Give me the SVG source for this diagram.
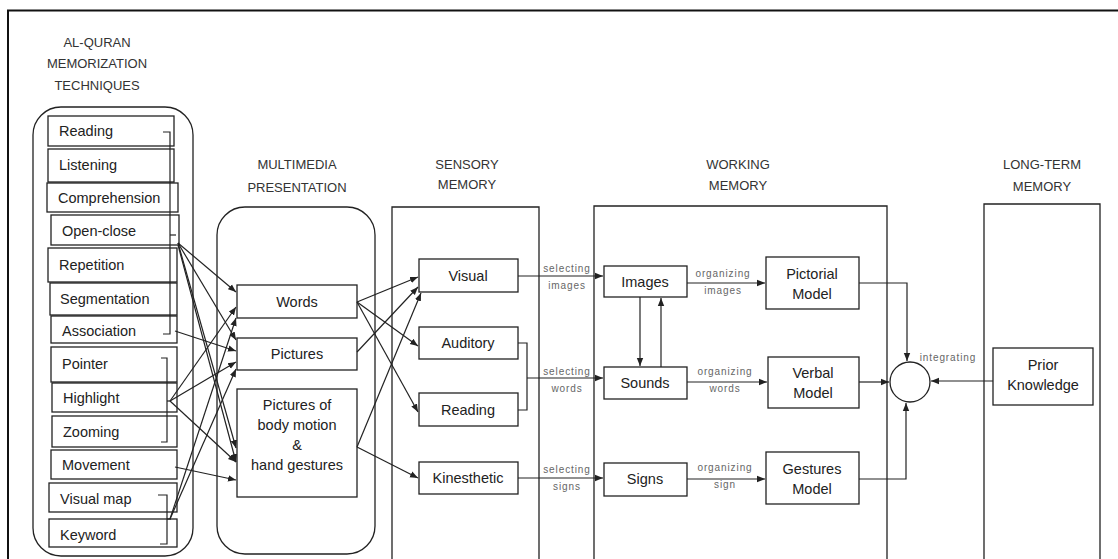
<svg xmlns="http://www.w3.org/2000/svg" width="1118" height="559" viewBox="0 0 1118 559">
<style>
.box{fill:#fff;stroke:#222;stroke-width:1.3}
.cont{fill:none;stroke:#222;stroke-width:1.3}
.t{font-family:"Liberation Sans",Arial,sans-serif;font-size:14.5px;fill:#222}
.tc{font-family:"Liberation Sans",Arial,sans-serif;font-size:14.5px;fill:#222;text-anchor:middle}
.h{font-family:"Liberation Sans",Arial,sans-serif;font-size:13px;fill:#333;text-anchor:middle}
.s{font-family:"Liberation Sans",Arial,sans-serif;font-size:10px;letter-spacing:0.9px;fill:#666;text-anchor:middle}
.c{fill:none;stroke:#222;stroke-width:1.2}
.a{fill:none;stroke:#222;stroke-width:1.2;marker-end:url(#ah)}
.br{fill:none;stroke:#222;stroke-width:1.2}
</style>
<defs>
<marker id="ah" viewBox="0 0 10 10" refX="10" refY="5" markerWidth="8" markerHeight="8" markerUnits="userSpaceOnUse" orient="auto">
<path d="M0,1 L10,5 L0,9 z" fill="#222"/>
</marker>
</defs>
<rect width="1118" height="559" fill="#fff"/>
<g id="frame">
<path d="M8,559 L8,10.5 L1118,10.5" fill="none" stroke="#111" stroke-width="2"/>
</g>

<g id="headers">
<text class="h" x="97" y="47">AL-QURAN</text>
<text class="h" x="97" y="68">MEMORIZATION</text>
<text class="h" x="97" y="90">TECHNIQUES</text>
<text class="h" x="297" y="169">MULTIMEDIA</text>
<text class="h" x="297" y="192">PRESENTATION</text>
<text class="h" x="467" y="169">SENSORY</text>
<text class="h" x="467" y="189">MEMORY</text>
<text class="h" x="738" y="169">WORKING</text>
<text class="h" x="738" y="190">MEMORY</text>
<text class="h" x="1042" y="169">LONG-TERM</text>
<text class="h" x="1042" y="191">MEMORY</text>
</g>

<g id="containers">
<rect class="cont" x="33" y="107" width="160" height="449" rx="28"/>
<rect class="cont" x="217" y="207" width="158" height="347" rx="28"/>
<path class="cont" d="M392,560 L392,207 L539,207 L539,560"/>
<path class="cont" d="M594,560 L594,206 L887,206 L887,560"/>
<path class="cont" d="M984,560 L984,204 L1100,204 L1100,560"/>
</g>

<g id="techniques">
<g id="t-reading"><rect class="box" x="48" y="116" width="126" height="30"/><text class="t" x="59" y="136">Reading</text></g>
<g id="t-listening"><rect class="box" x="48" y="149" width="126" height="33"/><text class="t" x="59" y="170">Listening</text></g>
<g id="t-comprehension"><rect class="box" x="47" y="183" width="131" height="29"/><text class="t" x="58" y="203">Comprehension</text></g>
<g id="t-openclose"><rect class="box" x="51" y="215" width="128" height="30"/><text class="t" x="62" y="236">Open-close</text></g>
<g id="t-repetition"><rect class="box" x="48" y="248" width="129" height="34"/><text class="t" x="59" y="270">Repetition</text></g>
<g id="t-segmentation"><rect class="box" x="50" y="283" width="127" height="32"/><text class="t" x="60" y="304">Segmentation</text></g>
<g id="t-association"><rect class="box" x="51" y="316" width="126" height="27"/><text class="t" x="62" y="336">Association</text></g>
<g id="t-pointer"><rect class="box" x="51" y="347" width="126" height="35"/><text class="t" x="62" y="369">Pointer</text></g>
<g id="t-highlight"><rect class="box" x="52" y="383" width="125" height="29"/><text class="t" x="63" y="403">Highlight</text></g>
<g id="t-zooming"><rect class="box" x="52" y="416" width="125" height="31"/><text class="t" x="63" y="437">Zooming</text></g>
<g id="t-movement"><rect class="box" x="51" y="450" width="126" height="29"/><text class="t" x="62" y="470">Movement</text></g>
<g id="t-visualmap"><rect class="box" x="49" y="483" width="128" height="29"/><text class="t" x="60" y="504">Visual map</text></g>
<g id="t-keyword"><rect class="box" x="49" y="519" width="128" height="28"/><text class="t" x="60" y="540">Keyword</text></g>
</g>

<g id="brackets">
<path class="br" d="M163,132 L170,132 L170,334 L163,334"/>
<path class="br" d="M170,235 L176,235"/>
<path class="br" d="M161,358 L167,358 L167,442 L161,442"/>
<path class="br" d="M167,401 L171,401"/>
<path class="br" d="M158,495 L167,495 L167,544 L160,544"/>
<path class="br" d="M167,519 L171,519"/>
</g>

<g id="multimedia">
<g id="m-words"><rect class="box" x="237" y="285" width="120" height="33"/><text class="tc" x="297" y="307">Words</text></g>
<g id="m-pictures"><rect class="box" x="237" y="338" width="120" height="32"/><text class="tc" x="297" y="359">Pictures</text></g>
<g id="m-body"><rect class="box" x="237" y="389" width="120" height="108"/>
<text class="tc" x="297" y="410">Pictures of</text>
<text class="tc" x="297" y="430">body motion</text>
<text class="tc" x="297" y="450">&amp;</text>
<text class="tc" x="297" y="470">hand gestures</text></g>
</g>

<g id="sensory">
<g id="s-visual"><rect class="box" x="419" y="259" width="99" height="33"/><text class="tc" x="468" y="281">Visual</text></g>
<g id="s-auditory"><rect class="box" x="419" y="327" width="99" height="32"/><text class="tc" x="468" y="348">Auditory</text></g>
<g id="s-reading"><rect class="box" x="419" y="393" width="99" height="33"/><text class="tc" x="468" y="415">Reading</text></g>
<g id="s-kinesthetic"><rect class="box" x="419" y="462" width="99" height="32"/><text class="tc" x="468" y="483">Kinesthetic</text></g>
</g>

<g id="working">
<g id="w-images"><rect class="box" x="604" y="266" width="83" height="31"/><text class="tc" x="645" y="287">Images</text></g>
<g id="w-sounds"><rect class="box" x="604" y="367" width="83" height="32"/><text class="tc" x="645" y="388">Sounds</text></g>
<g id="w-signs"><rect class="box" x="604" y="463" width="83" height="33"/><text class="tc" x="645" y="484">Signs</text></g>
<g id="w-pictorial"><rect class="box" x="766" y="257" width="93" height="52"/><text class="tc" x="812" y="279">Pictorial</text><text class="tc" x="812" y="299">Model</text></g>
<g id="w-verbal"><rect class="box" x="768" y="357" width="91" height="51"/><text class="tc" x="813" y="378">Verbal</text><text class="tc" x="813" y="398">Model</text></g>
<g id="w-gestures"><rect class="box" x="766" y="452" width="93" height="52"/><text class="tc" x="812" y="474">Gestures</text><text class="tc" x="812" y="494">Model</text></g>
</g>

<g id="longterm">
<g id="l-prior"><rect class="box" x="993" y="348" width="100" height="57"/><text class="tc" x="1043" y="370">Prior</text><text class="tc" x="1043" y="390">Knowledge</text></g>
<g id="integrator"><circle cx="910" cy="382" r="20" fill="#fff" stroke="#222" stroke-width="1.3"/></g>
</g>

<g id="labels">
<text class="s" x="567" y="272">selecting</text>
<text class="s" x="567" y="289">images</text>
<text class="s" x="567" y="375">selecting</text>
<text class="s" x="567" y="392">words</text>
<text class="s" x="567" y="473">selecting</text>
<text class="s" x="567" y="490">signs</text>
<text class="s" x="723" y="277">organizing</text>
<text class="s" x="723" y="294">images</text>
<text class="s" x="725" y="375">organizing</text>
<text class="s" x="725" y="392">words</text>
<text class="s" x="725" y="471">organizing</text>
<text class="s" x="725" y="488">sign</text>
<text class="s" x="948" y="361">integrating</text>
</g>

<g id="connectors">
<path class="a" d="M178,243 L236,292"/>
<path class="a" d="M178,243 L236,340"/>
<path class="a" d="M178,243 L236,448"/>
<path class="a" d="M178,245 L236,462"/>
<path class="a" d="M175,331 L236,351"/>
<path class="a" d="M170,401 L236,307"/>
<path class="a" d="M170,401 L236,362"/>
<path class="a" d="M170,401 L236,462"/>
<path class="a" d="M175,467 L236,480"/>
<path class="a" d="M170,519 L236,318"/>
<path class="a" d="M170,519 L236,369"/>

<path class="a" d="M357,302 L418,277"/>
<path class="a" d="M357,302 L418,346"/>
<path class="a" d="M357,302 L418,412"/>
<path class="a" d="M357,352 L418,287"/>
<path class="a" d="M357,447 L421,293"/>
<path class="a" d="M357,447 L418,478"/>

<path class="a" d="M518,276 L603,276"/>
<path class="c" d="M518,343 L527,343 L527,410 L518,410"/>
<path class="a" d="M527,378 L603,378"/>
<path class="a" d="M518,478 L603,478"/>

<path class="a" d="M687,283 L765,283"/>
<path class="a" d="M687,382 L767,382"/>
<path class="a" d="M687,479 L765,479"/>
<path class="a" d="M640,297 L640,366"/>
<path class="a" d="M661,367 L661,298"/>

<path class="a" d="M859,283 L907,283 L907,361"/>
<path class="a" d="M859,382 L889,382"/>
<path class="a" d="M859,479 L906,479 L906,403"/>
<path class="a" d="M993,381 L931,381"/>
</g>
</svg>
